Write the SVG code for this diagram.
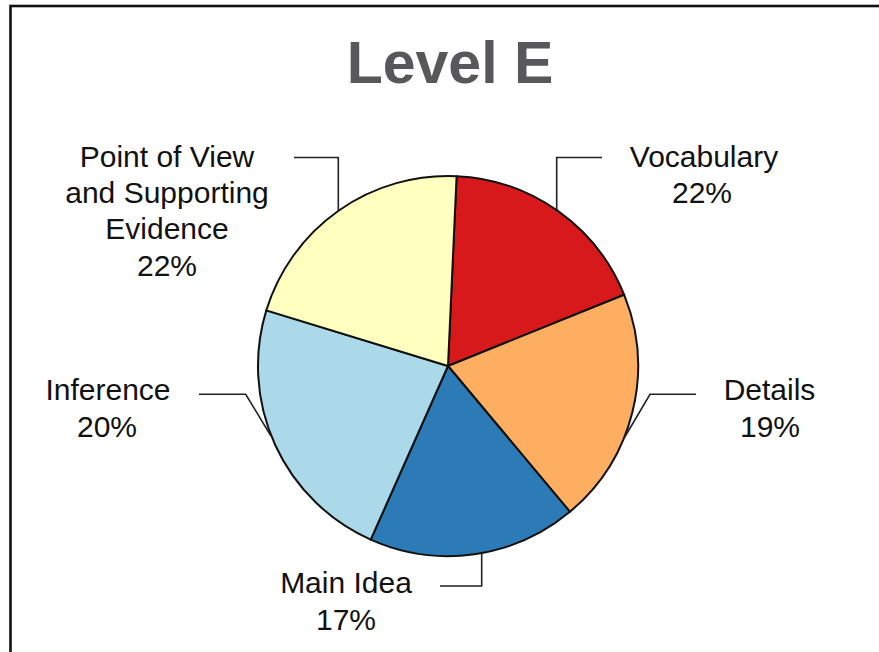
<svg xmlns="http://www.w3.org/2000/svg" width="879" height="652" viewBox="0 0 879 652">
<style>
.lbl{font-family:"Liberation Sans",Arial,sans-serif;font-size:30px;fill:#111;text-anchor:middle}
.ttl{font-family:"Liberation Sans",Arial,sans-serif;font-size:59px;font-weight:bold;fill:#58585a;text-anchor:middle}
.slice{stroke:#111;stroke-width:2;stroke-linejoin:round}
.lead{fill:none;stroke:#222;stroke-width:1.6}
</style>
<rect x="0" y="0" width="879" height="652" fill="#fff"/>
<rect x="10.5" y="6" width="900" height="700" fill="none" stroke="#111" stroke-width="2.6"/>
<text class="ttl" x="450" y="83">Level E</text>
<g id="slice-vocabulary"><path class="slice" fill="#d7191c" d="M448,366 L456.6,176.2 A190,190 0 0 1 624.2,294.8 Z"/></g>
<g id="slice-details"><path class="slice" fill="#fdae61" d="M448,366 L624.2,294.8 A190,190 0 0 1 569.9,511.8 Z"/></g>
<g id="slice-mainidea"><path class="slice" fill="#2c7bb6" d="M448,366 L569.9,511.8 A190,190 0 0 1 370.7,539.6 Z"/></g>
<g id="slice-inference"><path class="slice" fill="#abd9e9" d="M448,366 L370.7,539.6 A190,190 0 0 1 266.3,310.4 Z"/></g>
<g id="slice-pov"><path class="slice" fill="#ffffbf" d="M448,366 L266.3,310.4 A190,190 0 0 1 456.6,176.2 Z"/></g>
<g id="connectors">
<polyline class="lead" points="294,157.5 338.3,157.5 338.3,211"/>
<polyline class="lead" points="602,157.5 556.7,157.5 556.7,210"/>
<polyline class="lead" points="199,394.3 245.7,394.3 271,436"/>
<polyline class="lead" points="696,394.3 650,394.3 624.5,437.5"/>
<polyline class="lead" points="440,586 481.7,586 481.7,553"/>
</g>
<g id="label-pov"><text class="lbl" x="167" y="167">Point of View</text><text class="lbl" x="167" y="203">and Supporting</text><text class="lbl" x="167" y="239">Evidence</text><text class="lbl" x="167" y="276">22%</text></g>
<g id="label-vocabulary"><text class="lbl" x="704" y="167">Vocabulary</text><text class="lbl" x="702" y="203">22%</text></g>
<g id="label-inference"><text class="lbl" x="108" y="400">Inference</text><text class="lbl" x="107" y="437">20%</text></g>
<g id="label-details"><text class="lbl" x="769.5" y="400">Details</text><text class="lbl" x="770" y="437">19%</text></g>
<g id="label-mainidea"><text class="lbl" x="346" y="593">Main Idea</text><text class="lbl" x="346" y="630">17%</text></g>
</svg>
